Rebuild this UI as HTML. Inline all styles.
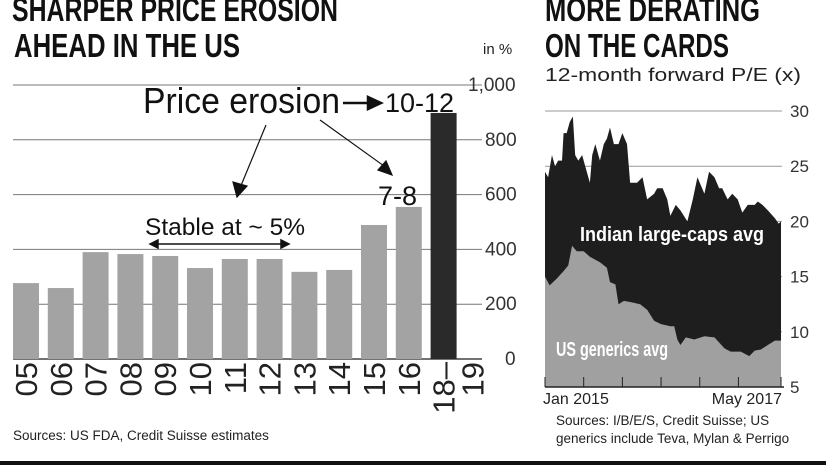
<!DOCTYPE html>
<html><head><meta charset="utf-8"><style>
body{margin:0;background:#fff;}
svg{display:block;font-family:"Liberation Sans",sans-serif;}
</style></head><body>
<svg id="c" width="826" height="465" viewBox="0 0 826 465">
<g font-weight="bold" font-size="33" fill="#111">
<text x="12" y="21" textLength="326" lengthAdjust="spacingAndGlyphs">SHARPER PRICE EROSION</text>
<text x="14" y="57" textLength="226" lengthAdjust="spacingAndGlyphs">AHEAD IN THE US</text>
</g>
<g font-weight="bold" font-size="33" fill="#111">
<text x="545" y="21" textLength="215" lengthAdjust="spacingAndGlyphs">MORE DERATING</text>
<text x="545" y="57" textLength="184" lengthAdjust="spacingAndGlyphs">ON THE CARDS</text>
</g>
<text x="545" y="81" font-size="18" fill="#222" textLength="256" lengthAdjust="spacingAndGlyphs">12-month forward P/E (x)</text>
<text x="483" y="54" font-size="15" fill="#222">in %</text>
<g id="left"></g>
<g id="right"></g>
<text x="13" y="440" font-size="13.5" fill="#222">Sources: US FDA, Credit Suisse estimates</text>
<text x="556" y="425" font-size="13.5" fill="#222">Sources: I/B/E/S, Credit Suisse; US</text>
<text x="556" y="443" font-size="13.5" fill="#222">generics include Teva, Mylan &amp; Perrigo</text>
<rect x="0" y="461" width="826" height="4" fill="#111"/>
</svg>
<script>
const barCats=["05","06","07","08","09","10","11","12","13","14","15","16","18–19"];
const barVals=[277,259,390,383,376,332,365,365,318,325,489,555,898];
const leftTicks=[0,200,400,600,800,1000];
const leftTickLabels=["0","200","400","600","800","1,000"];

const indMonths=[0,0.4,0.9,1.3,1.7,2.2,2.4,2.8,3.2,3.6,3.9,4.3,4.8,5.2,5.8,6.1,6.5,7.1,7.6,8.0,8.4,8.9,9.5,10.0,10.6,11.0,11.9,12.6,13.2,14.1,14.5,15.2,15.8,16.2,16.9,17.5,18.4,19.1,19.7,20.6,21.2,21.9,22.5,22.9,23.6,24.2,24.9,25.5,26.2,27.1,27.5,28.1,28.8,29.7,30.2,30.5];
const indVals=[24.5,24,26,25,25.5,25.5,28,28,29,29.5,26,25.5,26,25,23.5,26,27,25.5,27,27.5,28.5,27,27,28,27,23.5,23.5,24,22,22.5,23,23,22,20.5,21.5,21,20,22,24,22.5,24.5,24,23,23,22,22.5,22,20.8,21.5,21.5,21.8,21.5,21,20.3,19.8,20];
const usMonths=[0,0.6,1.5,2.4,3.0,3.5,4.1,5.0,5.8,7.1,8.0,8.4,9.1,9.5,10.2,11.0,12.3,13.2,14.1,15.0,16.2,16.7,17.1,17.5,18.2,19.3,20.6,21.9,23.2,24.0,25.3,26.4,27.1,27.9,28.8,29.7,30.5];
const usVals=[15,14.2,14.8,15.5,16,17.8,17.3,17.3,16.8,16.3,15.8,14.5,14.3,12.5,12.8,12.7,12.5,12,11,10.7,10.5,10.5,9.3,8.8,9.5,9.3,9.6,9.5,8.5,8.2,8.2,7.8,8.3,8.4,8.8,9.2,9.2];
const rightTicks=[5,10,15,20,25,30];
const xTickMonths=[0,5,10,15,20,25,30.5];

const NS="http://www.w3.org/2000/svg";
function mk(tag,attrs,parent,txt){const e=document.createElementNS(NS,tag);for(const k in attrs)e.setAttribute(k,attrs[k]);if(txt!==undefined)e.textContent=txt;parent.appendChild(e);return e;}

// left chart
const L=document.getElementById('left');
const yL=v=>359-v*0.274;
const xL=i=>13+i*34.8;
leftTicks.forEach((t,i)=>{
  const g=mk('line',{x1:13,x2:482,y1:yL(t),y2:yL(t),stroke:t===0?'#444':'#777','stroke-width':t===0?1.5:1},L);
  
  
  const tl=mk('text',{x:t===1000?468:(t===0?505:485),y:yL(t)+6,'font-size':19,fill:'#333'},L,leftTickLabels[i]);
  
  
});
barCats.forEach((c,i)=>{
  const last=i===barCats.length-1;
  const r=mk('rect',{x:xL(i),y:yL(barVals[i]),width:26,height:yL(0)-yL(barVals[i]),fill:last?'#2a2a2a':'#a3a3a3'},L);
  
  
  const cx=xL(i)+13;
  if(!last){
    const t=mk('text',{transform:`translate(${cx+11},362) rotate(-90)`,'text-anchor':'end','font-size':31,fill:'#222'},L,c);
    
    
  } else {
    const t=mk('text',{transform:`translate(${cx+11},362) rotate(-90)`,'text-anchor':'end','font-size':31,fill:'#222'},L,'18–');
    
    
    const t2=mk('text',{transform:`translate(${cx+40},362) rotate(-90)`,'text-anchor':'end','font-size':31,fill:'#222'},L,'19');
    
    
  }
});
// annotations
const ann=mk('g',{fill:'#111'},L);


let a=mk('text',{x:143,y:113,'font-size':36,textLength:197,lengthAdjust:'spacingAndGlyphs'},ann,'Price erosion');

a=mk('text',{x:385,y:112,'font-size':27},ann,'10-12');

a=mk('text',{x:378,y:205,'font-size':27},ann,'7-8');

a=mk('text',{x:145,y:235,'font-size':24,textLength:160,lengthAdjust:'spacingAndGlyphs'},ann,'Stable at ~ 5%');

a=mk('path',{d:'M343 103 H368 M368 97 L381 103 L368 109 Z',stroke:'#111','stroke-width':2.5,fill:'#111'},ann);

a=mk('path',{d:'M266 125 L240 188 M233 182 L237 197 L247 186 Z',stroke:'#111','stroke-width':1.2,fill:'#111'},ann);

a=mk('path',{d:'M320 120 L384 166 M378 170 L392 175 L386 161 Z',stroke:'#111','stroke-width':1.2,fill:'#111'},ann);

a=mk('path',{d:'M152 244 H287 M150 244 L158 240 L158 248 Z M289 244 L281 240 L281 248 Z',stroke:'#111','stroke-width':1.5,fill:'#111'},ann);


// right chart
const R=document.getElementById('right');
const yR=v=>387-(v-5)*11.04;
const xR=m=>545+m*(236/30.5);
rightTicks.forEach(t=>{
  if(t>5){const g=mk('line',{x1:545,x2:782,y1:yR(t),y2:yR(t),stroke:'#999','stroke-width':1},R);
  }
  const tl=mk('text',{x:790,y:yR(t)+6,'font-size':17,fill:'#333'},R,String(t));
  
  
});
function area(ms,vs){let d=`M${xR(ms[0])} ${yR(5)}`;ms.forEach((m,i)=>{d+=` L${xR(m)} ${yR(vs[i])}`;});d+=` L${xR(ms[ms.length-1])} ${yR(5)} Z`;return d;}
let ar=mk('path',{d:area(indMonths,indVals),fill:'#1e1e1e'},R);

ar=mk('path',{d:area(usMonths,usVals),fill:'#a0a0a0'},R);

let ax=mk('line',{x1:545,x2:784,y1:387,y2:387,stroke:'#222','stroke-width':1.5},R);

xTickMonths.forEach(m=>{const t=mk('line',{x1:xR(m),x2:xR(m),y1:377,y2:387,stroke:'#222'},R);
});
let lt=mk('text',{x:543,y:404,'font-size':16,fill:'#222'},R,'Jan 2015');

lt=mk('text',{x:782,y:404,'font-size':16,fill:'#222','text-anchor':'end'},R,'May 2017');

lt=mk('text',{x:580,y:241,'font-size':20,fill:'#fff','font-weight':'bold',textLength:184,lengthAdjust:'spacingAndGlyphs'},R,'Indian large-caps avg');

lt=mk('text',{x:556,y:356,'font-size':20,fill:'#fff','font-weight':'bold',textLength:112,lengthAdjust:'spacingAndGlyphs'},R,'US generics avg');

</script>
</body></html>
